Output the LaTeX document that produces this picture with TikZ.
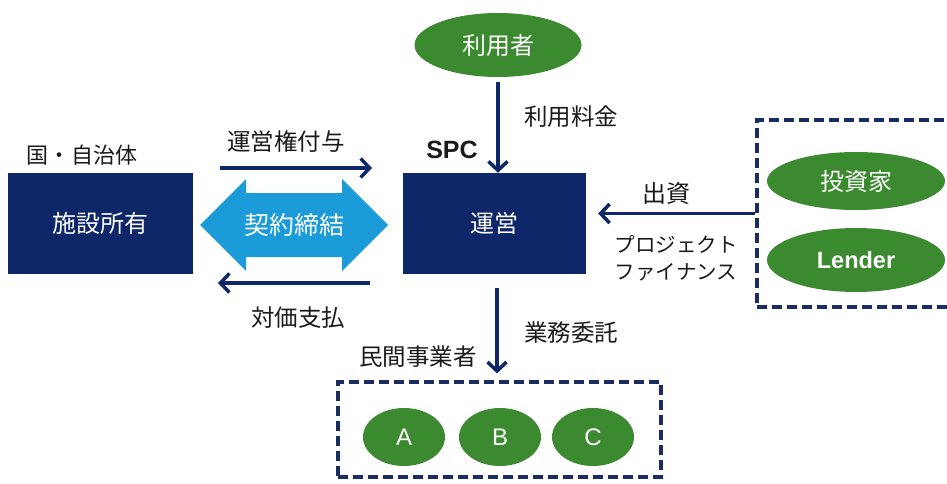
\documentclass[tikz,border=0pt]{standalone}
\usepackage{fontspec}
\newfontfamily\jp{Noto Sans CJK JP}
\newfontfamily\ls{Liberation Sans}
\usetikzlibrary{arrows.meta,calc}
\definecolor{navy}{HTML}{0D2768}
\definecolor{dnavy}{HTML}{1A2D62}
\definecolor{grn}{HTML}{3C8A30}
\definecolor{lblue}{HTML}{1B9BD7}
\definecolor{txt}{HTML}{1A1A1A}
\tikzset{
  navybox/.style={fill=navy, draw=none, text=white, font=\jp\fontsize{24}{24}\selectfont, inner sep=0pt},
  oval/.style={ellipse, fill=grn, draw=none, text=white, inner sep=0pt},
  arr/.style={draw=navy, line width=3.5pt, -{Straight Barb[length=9pt,width=19pt]}},
  dbox/.style={draw=dnavy, line width=3.2pt, dash pattern=on 10pt off 5pt, inner sep=0pt},
  lbl/.style={text=txt, font=\jp\fontsize{23.5}{23.5}\selectfont, inner sep=0pt},
}
\usetikzlibrary{shapes.geometric}
\begin{document}
\begin{tikzpicture}[x=1pt,y=-1pt]
\useasboundingbox (0,0) rectangle (947,484);

% boxes
\node[navybox, minimum width=185pt, minimum height=101pt] (owner) at (100.5,223.5) {施設所有};
\node[navybox, minimum width=183pt, minimum height=101pt] (spc) at (494.5,223.5) {運営};

% dashed groups
\node[dbox, minimum width=323pt, minimum height=95pt] (private) at (499.5,429.5) {};
\node[dbox, minimum width=240pt, minimum height=187pt] (fund) at (877,213.5) {};

% ellipses
\node[oval, minimum width=167pt, minimum height=64pt, font=\jp\fontsize{24}{24}\selectfont] (user) at (498,45) {利用者};
\node[oval, minimum width=82pt, minimum height=58pt, font=\ls\fontsize{24}{24}\selectfont] (a) at (404,437) {A};
\node[oval, minimum width=82pt, minimum height=58pt, font=\ls\fontsize{24}{24}\selectfont] (b) at (500,437) {B};
\node[oval, minimum width=82pt, minimum height=58pt, font=\ls\fontsize{24}{24}\selectfont] (c) at (593,437) {C};
\node[oval, minimum width=178pt, minimum height=58pt, font=\jp\fontsize{24}{24}\selectfont] (inv) at (856,181) {投資家};
\node[oval, minimum width=178pt, minimum height=64pt, font=\ls\bfseries\fontsize{23.5}{23.5}\selectfont] (lender) at (856,260) {Lender};

% double arrow
\fill[lblue] (200,225) -- (246,179) -- (246,193) -- (342,193) -- (342,179) -- (388,225)
  -- (342,271) -- (342,257) -- (246,257) -- (246,271) -- cycle;
\node[text=white, font=\jp\fontsize{25}{25}\selectfont, inner sep=0pt] (contract) at (294,225) {契約締結};

% labels
\node[lbl, font=\jp\fontsize{22}{22}\selectfont] (gov) at (82,155) {国・自治体};
\node[lbl, font=\ls\bfseries\fontsize{25}{25}\selectfont] (spcl) at (452,150) {SPC};
\node[lbl] (fee) at (571,117) {利用料金};
\node[lbl] (grant) at (286,142) {運営権付与};
\node[lbl] (pay) at (298,318) {対価支払};
\node[lbl] (outs) at (571,333) {業務委託};
\node[lbl] (pvt) at (418,357) {民間事業者};
\node[lbl, font=\jp\fontsize{24}{24}\selectfont] (inveq) at (666,193) {出資};
\node[lbl, font=\jp\fontsize{20.5}{27}\selectfont, align=center] (pf) at (676,258) {プロジェクト\\ファイナンス};

% arrows
\coordinate (g1) at (220,168);
\coordinate (g2) at (372,168);
\coordinate (p1) at (370,283);
\coordinate (p2) at (218,283);
\draw[arr] (g1) -- (g2);
\draw[arr] (p1) -- (p2);
\draw[arr, shorten <=5pt] (user.south) -- (user.south |- spc.north);
\draw[arr, shorten <=14pt, shorten >=7pt] ([xshift=2.5pt]spc.south) -- ([xshift=2.5pt]spc.south |- private.north);
\draw[arr, shorten >=12pt] (fund.west) -- (fund.west -| spc.east);
\end{tikzpicture}
\end{document}
